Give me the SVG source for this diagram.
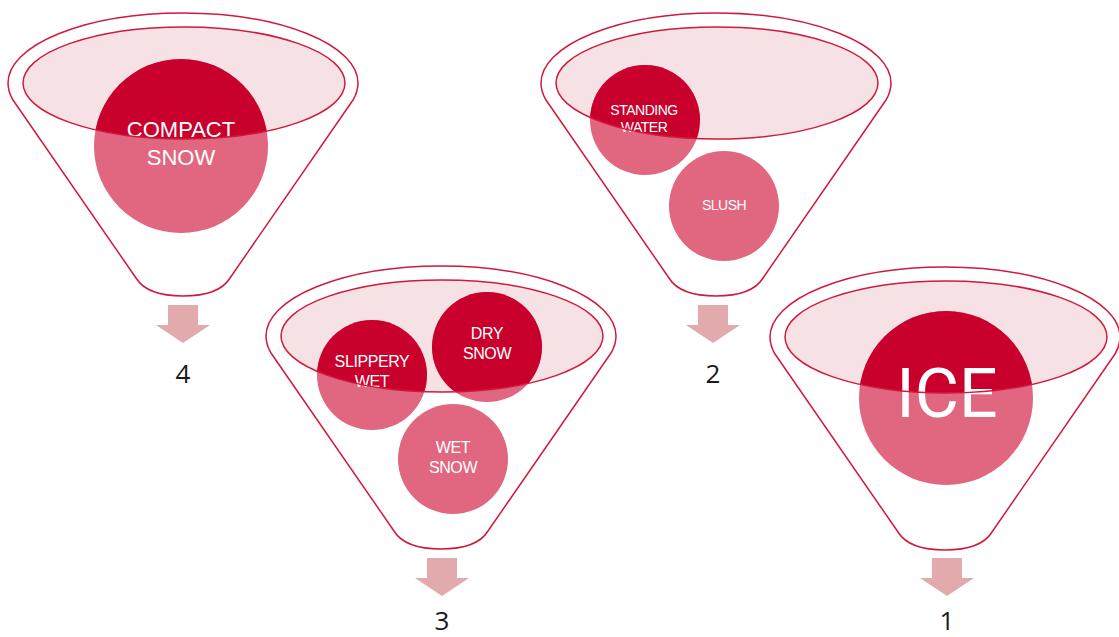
<svg xmlns="http://www.w3.org/2000/svg" width="1119" height="637" viewBox="0 0 1119 637">
<style>
.outer{fill:#ffffff;stroke:#cf1a3c;stroke-width:1.5}
.inner-fill{fill:#f6e2e5}
.inner-stroke{fill:none;stroke:#cf1a3c;stroke-width:1.5}
.lo{fill:#e0677f}
.hi{fill:#c9002c}
.t{font-family:"Liberation Sans",Arial,sans-serif;fill:#ffffff;text-anchor:middle}
.arrow{fill:#e3aaae}
.num{font-family:"Open Sans","DejaVu Sans",sans-serif;font-size:26px;fill:#1a1a1a;text-anchor:middle}
</style>
<defs>
<path id="funnel" d="M 8,83 A 175,70 0 0 1 358,83 C 358,90 356,95 353,100 L 230,278 C 222,291 205,296 183,296 C 161,296 144,291 136,278 L 13,100 C 10,95 8,90 8,83 Z"/>
<ellipse id="innerEl" cx="184" cy="83" rx="161" ry="56"/>
<clipPath id="innerClip"><ellipse cx="184" cy="83" rx="161" ry="56"/></clipPath>
<path id="downArrow" d="M -15,0 H 15 V 20 H 27 L 0,38 L -27,20 H -15 Z"/>
</defs>

<g id="funnel-4">
<use href="#funnel" class="outer"/>
<use href="#innerEl" class="inner-fill"/>
<circle class="lo" cx="181" cy="146" r="87"/>
<circle class="hi" cx="181" cy="146" r="87" clip-path="url(#innerClip)"/>
<text class="t" font-size="22" x="181" y="137">COMPACT</text>
<text class="t" font-size="22" x="181" y="165">SNOW</text>
<use href="#innerEl" class="inner-stroke"/>
</g>

<g id="funnel-2" transform="translate(533,0)">
<use href="#funnel" class="outer"/>
<use href="#innerEl" class="inner-fill"/>
<circle class="lo" cx="112" cy="120" r="55"/>
<circle class="hi" cx="112" cy="120" r="55" clip-path="url(#innerClip)"/>
<circle class="lo" cx="191" cy="206" r="55"/>
<text class="t" font-size="14" letter-spacing="-0.5" x="111" y="115">STANDING</text>
<text class="t" font-size="14" letter-spacing="-0.5" x="111" y="132">WATER</text>
<text class="t" font-size="14" letter-spacing="-0.5" x="191" y="210">SLUSH</text>
<use href="#innerEl" class="inner-stroke"/>
</g>

<g id="funnel-3" transform="translate(258,253)">
<use href="#funnel" class="outer"/>
<use href="#innerEl" class="inner-fill"/>
<circle class="lo" cx="114" cy="122" r="55"/>
<circle class="hi" cx="114" cy="122" r="55" clip-path="url(#innerClip)"/>
<circle class="lo" cx="229" cy="94" r="55"/>
<circle class="hi" cx="229" cy="94" r="55" clip-path="url(#innerClip)"/>
<circle class="lo" cx="195" cy="206" r="55"/>
<text class="t" font-size="16" letter-spacing="-0.4" x="114" y="114">SLIPPERY</text>
<text class="t" font-size="16" letter-spacing="-0.4" x="114" y="134">WET</text>
<text class="t" font-size="16" letter-spacing="-0.4" x="229" y="86">DRY</text>
<text class="t" font-size="16" letter-spacing="-0.4" x="229" y="106">SNOW</text>
<text class="t" font-size="16" letter-spacing="-0.4" x="195" y="200">WET</text>
<text class="t" font-size="16" letter-spacing="-0.4" x="195" y="220">SNOW</text>
<use href="#innerEl" class="inner-stroke"/>
</g>

<g id="funnel-1" transform="translate(762,254)">
<use href="#funnel" class="outer"/>
<use href="#innerEl" class="inner-fill"/>
<circle class="lo" cx="184" cy="144" r="87"/>
<circle class="hi" cx="184" cy="144" r="87" clip-path="url(#innerClip)"/>
<text class="t" font-size="68" x="185" y="163" style="font-family:Roboto,'Liberation Sans',sans-serif;font-weight:400">ICE</text>
<use href="#innerEl" class="inner-stroke"/>
</g>

<g id="connectors">
<use href="#downArrow" class="arrow" x="183" y="305"/>
<use href="#downArrow" class="arrow" x="713" y="305"/>
<use href="#downArrow" class="arrow" x="442" y="558"/>
<use href="#downArrow" class="arrow" x="947" y="558"/>
</g>

<g id="labels">
<text class="num" x="183" y="383">4</text>
<text class="num" x="713" y="383">2</text>
<text class="num" x="442" y="630">3</text>
<text class="num" x="947" y="630">1</text>
</g>
</svg>
